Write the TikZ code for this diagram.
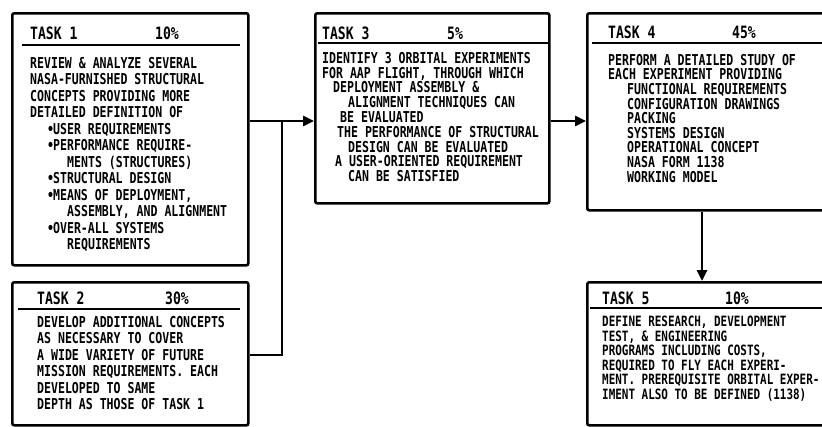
\documentclass[tikz,border=0pt]{standalone}
\usepackage{fontspec}
\setmainfont{DejaVu Sans Mono}[FakeStretch=0.77]
\usepackage{tikz}
\usetikzlibrary{arrows.meta,positioning,calc}

\newcommand{\tbul}{\hspace*{17pt}\textbullet\hspace{-1pt}}
\newcommand{\tin}[1]{\hspace*{#1pt}}

\begin{document}
\begin{tikzpicture}[x=1pt, y=-1pt,
    taskbox/.style={rectangle, draw, line width=2.6pt, rounded corners=2pt, anchor=north west, inner sep=0pt},
    tasktitle/.style={anchor=west, inner sep=0pt, font=\bfseries\fontsize{17}{18}\selectfont},
    taskbody/.style={anchor=north west, inner sep=0pt, align=left, font=\bfseries\fontsize{15}{#1}\selectfont},
    taskbody/.default=16.5,
    headrule/.style={line width=1.2pt},
    wire/.style={line width=2.6pt},
    flow/.style={wire, -{Triangle[length=11pt,width=10pt]}},
]
\useasboundingbox (0,0) rectangle (822,426);

% Boxes
\node[taskbox, minimum width=236pt, minimum height=252pt] (t1) at (11,12) {};
\node[taskbox, minimum width=236pt, minimum height=143pt] (t2) at (11,281) {};
\node[taskbox, minimum width=234pt, minimum height=190pt] (t3) at (314,12) {};
\node[taskbox, minimum width=250pt, minimum height=197pt] (t4) at (586,12) {};
\node[taskbox, minimum width=250pt, minimum height=143pt] (t5) at (586,281) {};

% Task 1
\node[tasktitle] (t1h) at (30,33) {TASK 1};
\node[tasktitle] (t1p) at (155,33) {10\%};
\draw[headrule] (22,45) -- (240,45);
\node[taskbody] (t1b) at (30,57) {REVIEW \& ANALYZE SEVERAL\\
NASA-FURNISHED STRUCTURAL\\
CONCEPTS PROVIDING MORE\\
DETAILED DEFINITION OF\\
\tbul USER REQUIREMENTS\\
\tbul PERFORMANCE REQUIRE-\\
\tin{37}MENTS (STRUCTURES)\\
\tbul STRUCTURAL DESIGN\\
\tbul MEANS OF DEPLOYMENT,\\
\tin{37}ASSEMBLY, AND ALIGNMENT\\
\tbul OVER-ALL SYSTEMS\\
\tin{37}REQUIREMENTS};

% Task 2
\node[tasktitle] (t2h) at (37,298) {TASK 2};
\node[tasktitle] (t2p) at (165,298) {30\%};
\draw[headrule] (18,309) -- (240,309);
\node[taskbody] (t2b) at (37,316) {DEVELOP ADDITIONAL CONCEPTS\\
AS NECESSARY TO COVER\\
A WIDE VARIETY OF FUTURE\\
MISSION REQUIREMENTS. EACH\\
DEVELOPED TO SAME\\
DEPTH AS THOSE OF TASK 1};

% Task 3
\node[tasktitle] (t3h) at (322,33) {TASK 3};
\node[tasktitle] (t3p) at (447,33) {5\%};
\draw[headrule] (318,43) -- (548,43);
\node[taskbody=14.8] (t3b) at (322,52) {IDENTIFY 3 ORBITAL EXPERIMENTS\\
FOR AAP FLIGHT, THROUGH WHICH\\
\tin{11}DEPLOYMENT ASSEMBLY \&\\
\tin{26}ALIGNMENT TECHNIQUES CAN\\
\tin{18}BE EVALUATED\\
\tin{15}THE PERFORMANCE OF STRUCTURAL\\
\tin{26}DESIGN CAN BE EVALUATED\\
\tin{13}A USER-ORIENTED REQUIREMENT\\
\tin{26}CAN BE SATISFIED};

% Task 4
\node[tasktitle] (t4h) at (608,32) {TASK 4};
\node[tasktitle] (t4p) at (732,32) {45\%};
\draw[headrule] (592,43) -- (830,43);
\node[taskbody=14.6] (t4b) at (608,54) {PERFORM A DETAILED STUDY OF\\
EACH EXPERIMENT PROVIDING\\
\tin{19}FUNCTIONAL REQUIREMENTS\\
\tin{19}CONFIGURATION DRAWINGS\\
\tin{19}PACKING\\
\tin{19}SYSTEMS DESIGN\\
\tin{19}OPERATIONAL CONCEPT\\
\tin{19}NASA FORM 1138\\
\tin{19}WORKING MODEL};

% Task 5
\node[tasktitle] (t5h) at (602,298) {TASK 5};
\node[tasktitle] (t5p) at (725,298) {10\%};
\draw[headrule] (590,308) -- (830,308);
\node[taskbody, font=\bfseries\fontsize{14.2}{14.5}\selectfont] (t5b) at (602,316) {DEFINE RESEARCH, DEVELOPMENT\\
TEST, \& ENGINEERING\\
PROGRAMS INCLUDING COSTS,\\
REQUIRED TO FLY EACH EXPERI-\\
MENT. PREREQUISITE ORBITAL EXPER-\\
IMENT ALSO TO BE DEFINED (1138)};

% Connectors
\coordinate (join) at (282,121);
\coordinate (low) at (282,355);
\coordinate (drop) at (702,245);
\draw[wire] (t1.east |- join) -- (join) -- (low) -- (t2.east |- low);
\draw[flow] (join) -- (t3.west |- join);
\draw[flow] (t3.east |- join) -- (t4.west |- join);
\draw[flow] (t4.south -| drop) -- (t5.north -| drop);

\end{tikzpicture}
\end{document}
